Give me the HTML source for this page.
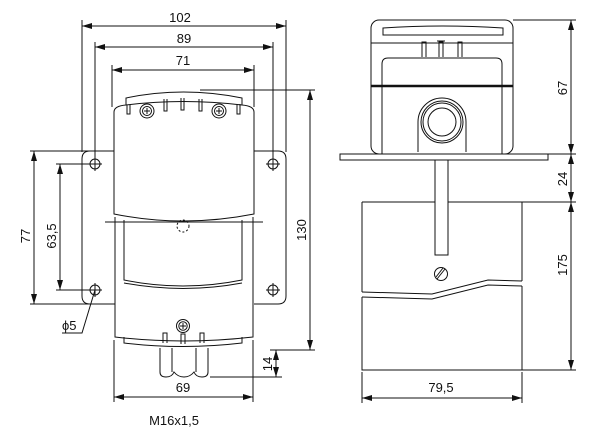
<!DOCTYPE html>
<html><head><style>html,body{margin:0;padding:0;background:#fff}svg{display:block}text{font-family:"Liberation Sans",sans-serif;font-size:13px;fill:#111}</style></head><body>
<svg width="600" height="448" viewBox="0 0 600 448" xmlns="http://www.w3.org/2000/svg">
<defs>
<marker id="a" viewBox="0 0 10 6" refX="10" refY="3" markerWidth="10" markerHeight="6" orient="auto-start-reverse" markerUnits="userSpaceOnUse"><path d="M0,0 L10,3 L0,6z" fill="#111"/></marker>
</defs>
<g stroke="#111" fill="none" stroke-width="1">
<line x1="82" y1="20" x2="82" y2="152"/><line x1="286" y1="20" x2="286" y2="152"/>
<line x1="82" y1="26" x2="286" y2="26" marker-start="url(#a)" marker-end="url(#a)"/>
<line x1="95" y1="42" x2="95" y2="160"/><line x1="273" y1="42" x2="273" y2="160"/>
<line x1="95" y1="47" x2="273" y2="47" marker-start="url(#a)" marker-end="url(#a)"/>
<line x1="112" y1="65" x2="112" y2="107"/><line x1="254" y1="65" x2="254" y2="107"/>
<line x1="112" y1="70" x2="254" y2="70" marker-start="url(#a)" marker-end="url(#a)"/>
<line x1="200" y1="90" x2="315" y2="90"/><line x1="270" y1="350" x2="315" y2="350"/>
<line x1="310" y1="90" x2="310" y2="350" marker-start="url(#a)" marker-end="url(#a)"/>
<line x1="210" y1="377" x2="282" y2="377"/>
<line x1="276" y1="350" x2="276" y2="377" marker-start="url(#a)" marker-end="url(#a)"/>
<line x1="114" y1="340" x2="114" y2="402"/><line x1="253" y1="340" x2="253" y2="402"/>
<line x1="114" y1="397" x2="253" y2="397" marker-start="url(#a)" marker-end="url(#a)"/>
<line x1="30" y1="151" x2="112" y2="151"/><line x1="30" y1="304" x2="115" y2="304"/>
<line x1="34" y1="151" x2="34" y2="304" marker-start="url(#a)" marker-end="url(#a)"/>
<line x1="56" y1="164" x2="100" y2="164"/><line x1="56" y1="290" x2="102" y2="290"/>
<line x1="60" y1="164" x2="60" y2="290" marker-start="url(#a)" marker-end="url(#a)"/>
<polyline points="95,290 82,333 62,333"/>
<path d="M114,151 H90 Q82,151 82,159 V296 Q82,304 90,304 H114"/>
<path d="M254,151 H278 Q286,151 286,159 V296 Q286,304 278,304 H254"/>
<g>
<circle cx="95" cy="164" r="5"/><circle cx="273" cy="164" r="5"/><circle cx="95" cy="290" r="5"/><circle cx="273" cy="290" r="5"/>
<path d="M88,164h14M95,157v14M266,164h14M273,157v14M88,290h14M95,283v14M266,290h14M273,283v14"/>
</g>
<path d="M126,105 V98 Q183,86 242,98 V105"/>
<path d="M114,112 Q114,106 126,105 Q183,98 242,105 Q254,106 254,112 V214 Q183,228 114,214 Z"/>
<path d="M127,105v9h3v-9M164,99v12h3v-12M181,98v12h3v-12M199,99v12h3v-12M237,104v10h3v-10"/>
<circle cx="147" cy="111" r="7"/><circle cx="147" cy="111" r="4.5"/><path d="M144,111h6M147,108v6"/>
<circle cx="219" cy="111" r="7"/><circle cx="219" cy="111" r="4.5"/><path d="M216,111h6M219,108v6"/>
<line x1="105" y1="222" x2="263" y2="222"/>
<circle cx="183" cy="226" r="6" stroke-dasharray="2 2"/>
<path d="M115,217 V337 Q183,345 253,337 V217"/>
<path d="M124,220 V280 Q183,292 242,280 V220"/>
<path d="M124,283 Q183,294 242,283"/>
<circle cx="183" cy="326" r="6.5"/><circle cx="183" cy="326" r="4.2"/><path d="M180,326h6M183,323v6"/>
<path d="M124,337 V343 Q183,350 242,343 V337"/>
<path d="M163,343v-10h4v10M181,344v-10h4v10M200,343v-10h4v10"/>
<path d="M160,348 V372 Q160,377 166,377 Q172,377 174,372 Q178,377 184,377 Q190,377 194,372 Q196,377 202,377 Q208,377 208,372 V348"/>
<path d="M172,348V372M196,348V372"/>
<rect x="371" y="20" width="142" height="134" rx="8"/>
<path d="M383,35 V28 Q442,24 503,28 V35 Z"/>
<line x1="371" y1="43" x2="513" y2="43"/>
<path d="M422,57v-15h4v15M439,57v-15h4v15M458,57v-15h4v15M437,41h8"/>
<path d="M382,154 V64 Q382,58 388,58 H496 Q502,58 502,64 V154"/>
<line x1="371" y1="86" x2="513" y2="86" stroke-width="2.5"/>
<path d="M418,152 V122 A24,24 0 0 1 466,122 V152"/>
<circle cx="442" cy="122" r="21"/><circle cx="442" cy="122" r="19"/><circle cx="442" cy="122" r="14"/>
<rect x="340" y="154" width="208" height="6"/>
<path d="M435,160 V255 H448 V160"/>
<path d="M362,202 H435 M448,202 H522 M362,202 V292 M522,202 V281 M362,297 V370 H522 V286"/>
<path d="M362,292 L432,294 L488,280 L522,281"/>
<path d="M362,297 L432,299 L488,285 L522,286"/>
<circle cx="441" cy="274" r="6.5"/><line x1="437" y1="279" x2="445" y2="269"/><line x1="436" y1="277" x2="443" y2="268"/>
<line x1="513" y1="20" x2="576" y2="20"/><line x1="548" y1="154" x2="576" y2="154"/>
<line x1="522" y1="202" x2="576" y2="202"/><line x1="522" y1="370" x2="576" y2="370"/>
<line x1="571" y1="20" x2="571" y2="154" marker-start="url(#a)" marker-end="url(#a)"/>
<line x1="571" y1="154" x2="571" y2="202" marker-start="url(#a)" marker-end="url(#a)"/>
<line x1="571" y1="202" x2="571" y2="370" marker-start="url(#a)" marker-end="url(#a)"/>
<line x1="362" y1="372" x2="362" y2="403"/><line x1="522" y1="372" x2="522" y2="403"/>
<line x1="362" y1="398" x2="522" y2="398" marker-start="url(#a)" marker-end="url(#a)"/>
</g>
<text x="180" y="22" text-anchor="middle">102</text>
<text x="184" y="43" text-anchor="middle">89</text>
<text x="183" y="65" text-anchor="middle">71</text>
<text x="183" y="392" text-anchor="middle">69</text>
<text x="174" y="425" text-anchor="middle" font-size="12">M16x1,5</text>
<text x="62" y="330">ϕ5</text>
<text transform="translate(306,230) rotate(-90)" text-anchor="middle">130</text>
<text transform="translate(272,364) rotate(-90)" text-anchor="middle">14</text>
<text transform="translate(30,236) rotate(-90)" text-anchor="middle">77</text>
<text transform="translate(56,236) rotate(-90)" text-anchor="middle">63,5</text>
<text transform="translate(567,88) rotate(-90)" text-anchor="middle">67</text>
<text transform="translate(567,179) rotate(-90)" text-anchor="middle">24</text>
<text transform="translate(567,265) rotate(-90)" text-anchor="middle">175</text>
<text x="441" y="392" text-anchor="middle">79,5</text>
</svg>
</body></html>
